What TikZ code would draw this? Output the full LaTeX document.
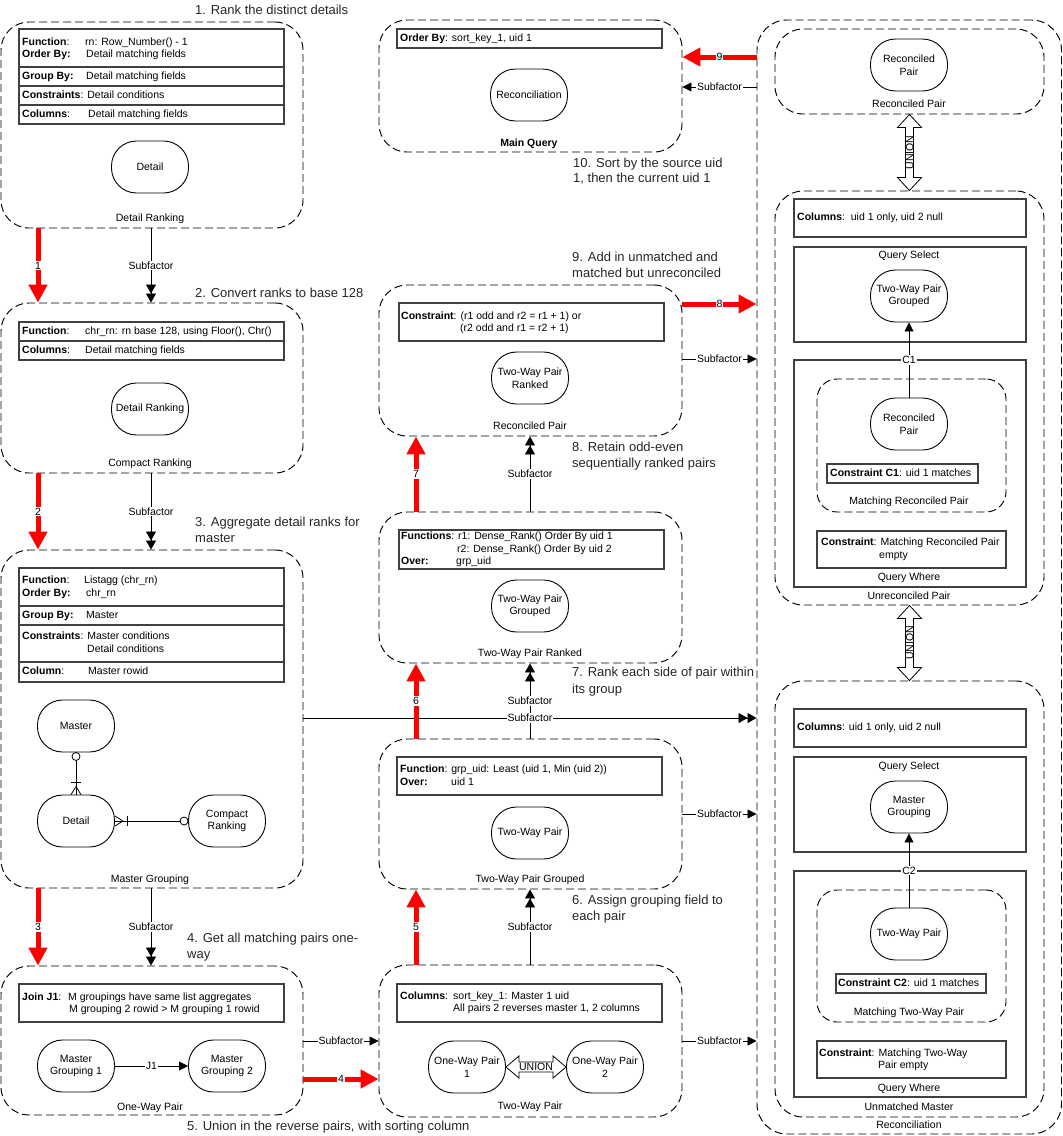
\documentclass[tikz,border=0pt]{standalone}
\usepackage{fontspec}
\setmainfont{Liberation Sans}
\usetikzlibrary{arrows.meta,calc,fit}
\newcommand\smallf{\fontsize{10.5}{12.5}\selectfont}
\newcommand\capf{\fontsize{13}{16}\selectfont}
\begin{document}
\begin{tikzpicture}[x=1pt,y=-1pt,
 grp/.style={draw=black, line width=0.95pt, dash pattern=on 8pt off 4pt, rounded corners=28pt, inner sep=0pt},
 grps/.style={grp, rounded corners=20pt},
 tbl/.style={draw=black!75, line width=1.3pt, inner sep=0pt},
 ent/.style={draw, line width=0.9pt, rounded corners=25pt, minimum width=77pt, minimum height=52pt, inner sep=1pt, align=center, font=\smallf},
 tx/.style={anchor=west, inner sep=0pt, text height=7.5pt, text depth=0pt, font=\smallf},
 ctx/.style={tx, anchor=center},
 capt/.style={anchor=west, inner sep=0pt, text height=9.3pt, text depth=0pt, font=\capf, text=black!85},
 redarr/.style={draw=red, line width=5pt, -{Triangle[length=18pt,width=18pt]}},
 sub1/.style={draw, line width=0.8pt, -{Triangle[length=9pt,width=9pt]}},
 sub2/.style={draw, line width=0.8pt, -{Triangle[length=9pt,width=10pt]Triangle[length=9pt,width=10pt]}},
 ml/.style={fill=white, inner sep=1pt, font=\smallf, text height=7.5pt, text depth=0pt, text=black},
 er/.style={draw, line width=0.8pt},
 uni/.style={draw, line width=0.8pt, fill=white}
]
\useasboundingbox (0,0) rectangle (1063,1136);
\coordinate (xA) at (38,0);
\coordinate (xB) at (151,0);
\coordinate (xC) at (416,0);
\coordinate (xD) at (530,0);
\coordinate (y57) at (0,57);
\coordinate (y87) at (0,87);
\coordinate (y304) at (0,304);
\coordinate (y359) at (0,359);
\coordinate (y718) at (0,718);
\coordinate (y814) at (0,814);
\coordinate (y1041) at (0,1041);
\coordinate (y1079) at (0,1079);

% ===== Left column =====
\node[grp, fit={(1,22)(303,228)}] (dr) {};
\node[tbl, fit={(19,29)(284,124)}] (drT) {};
\draw[tbl] (19,67) -- (284,67) (19,86) -- (284,86) (19,105) -- (284,105);
\node[tx] (t1a) at (22,42) {\textbf{Function}:};
\node[tx] (t1b) at (85,42) {rn: Row\_Number() - 1};
\node[tx] (t1c) at (22,54) {\textbf{Order By:}};
\node[tx] (t1d) at (86,54) {Detail matching fields};
\node[tx] (t1e) at (22,76) {\textbf{Group By:}};
\node[tx] (t1f) at (86,76) {Detail matching fields};
\node[tx] (t1g) at (22,95) {\textbf{Constraints}: Detail conditions};
\node[tx] (t1h) at (22,114) {\textbf{Columns}:};
\node[tx] (t1i) at (88,114) {Detail matching fields};
\node[ent] (eD1) at (150,167) {Detail};
\node[ctx] (l1) at (150,218) {Detail Ranking};
\node[capt] (s1) at (195,10) {1. Rank the distinct details};

\node[grp, fit={(1,303)(303,473)}] (cr) {};
\node[tbl, fit={(19,322)(284,360)}] (crT) {};
\draw[tbl] (19,341) -- (284,341);
\node[tx] (t2a) at (22,331) {\textbf{Function}:};
\node[tx] (t2b) at (85,331) {chr\_rn: rn base 128, using Floor(), Chr()};
\node[tx] (t2c) at (22,350) {\textbf{Columns}:};
\node[tx] (t2d) at (85,350) {Detail matching fields};
\node[ent] (eDR) at (150,409) {Detail Ranking};
\node[ctx] (l2) at (150,463) {Compact Ranking};
\node[capt] (s2) at (195,293) {2. Convert ranks to base 128};

\node[grp, fit={(1,550)(303,888)}] (mg) {};
\node[tbl, fit={(19,568)(284,682)}] (mgT) {};
\draw[tbl] (19,606) -- (284,606) (19,625) -- (284,625) (19,662) -- (284,662);
\node[tx] (t3a) at (22,580) {\textbf{Function}:};
\node[tx] (t3b) at (84,580) {Listagg (chr\_rn)};
\node[tx] (t3c) at (22,593) {\textbf{Order By:}};
\node[tx] (t3d) at (86,593) {chr\_rn};
\node[tx] (t3e) at (22,615) {\textbf{Group By:}};
\node[tx] (t3f) at (86,615) {Master};
\node[tx] (t3g) at (22,636) {\textbf{Constraints}: Master conditions};
\node[tx] (t3h) at (87,649) {Detail conditions};
\node[tx] (t3i) at (22,671) {\textbf{Column}:};
\node[tx] (t3j) at (88,671) {Master rowid};
\node[ent] (eMa) at (76,726) {Master};
\node[ent] (eDe) at (76,821) {Detail};
\node[ent] (eCR) at (227,821) {Compact\\Ranking};
\node[ctx] (l3) at (150,879) {Master Grouping};
\node[capt] (s3a) at (195,522) {3. Aggregate detail ranks for};
\node[capt] (s3b) at (195,538) {master};
% ER connectors
\draw[er] (eMa.south) -- (eDe.north);
\draw[er] ($(eDe.north)+(-5,-12)$) -- ($(eDe.north)+(5,-12)$);
\draw[er] ($(eDe.north)+(-5,0)$) -- ($(eDe.north)+(0,-8)$) -- ($(eDe.north)+(5,0)$);
\draw[er, fill=white] ($(eMa.south)+(0,4)$) circle[radius=4pt];
\draw[er] (eDe.east) -- (eCR.west);
\draw[er] ($(eDe.east)+(0,-5)$) -- ($(eDe.east)+(8,0)$) -- ($(eDe.east)+(0,5)$);
\draw[er] ($(eDe.east)+(12,-5)$) -- ($(eDe.east)+(12,5)$);
\draw[er, fill=white] ($(eCR.west)+(-4,0)$) circle[radius=4pt];

\node[grp, fit={(1,966)(303,1115)}] (owp) {};
\node[tbl, fit={(19,984)(284,1022)}] (owT) {};
\node[tx] (t4a) at (22,997) {\textbf{Join J1}:};
\node[tx] (t4b) at (68,997) {M groupings have same list aggregates};
\node[tx] (t4c) at (69,1009) {M grouping 2 rowid > M grouping 1 rowid};
\node[ent] (eG1) at (76,1066) {Master\\Grouping 1};
\node[ent] (eG2) at (227,1066) {Master\\Grouping 2};
\draw[sub1] (eG1) -- node[ml] {J1} (eG2);
\node[ctx] (l4) at (150,1107) {One-Way Pair};
\node[capt] (s4a) at (187,938) {4. Get all matching pairs one-};
\node[capt] (s4b) at (187,954) {way};
\node[capt] (s5) at (187,1126) {5. Union in the reverse pairs, with sorting column};

% ===== Middle column =====
\node[grp, fit={(379,20)(682,152)}] (mq) {};
\node[tbl, fit={(397,29)(662,48)}] (mqT) {};
\node[tx] (t5a) at (400,38) {\textbf{Order By}: sort\_key\_1, uid 1};
\node[ent] (eRc) at (529,95) {Reconciliation};
\node[ctx, font=\smallf\bfseries] (l5) at (529,143) {Main Query};
\node[capt] (s10a) at (573,163) {10. Sort by the source uid};
\node[capt] (s10b) at (573,178) {1, then the current uid 1};

\node[grp, fit={(379,285)(682,436)}] (rp) {};
\node[tbl, fit={(399,303)(664,341)}] (rpT) {};
\node[tx] (t6a) at (401,316) {\textbf{Constraint}: (r1 odd and r2 = r1 + 1) or};
\node[tx] (t6b) at (460,328) {(r2 odd and r1 = r2 + 1)};
\node[ent] (eTR) at (530,378) {Two-Way Pair\\Ranked};
\node[ctx] (l6) at (530,426) {Reconciled Pair};
\node[capt] (s9a) at (572,257) {9. Add in unmatched and};
\node[capt] (s9b) at (572,273) {matched but unreconciled};
\node[capt] (s8a) at (572,447) {8. Retain odd-even};
\node[capt] (s8b) at (572,463) {sequentially ranked pairs};

\node[grp, fit={(379,512)(682,663)}] (twr) {};
\node[tbl, fit={(399,530)(664,569)}] (twrT) {};
\node[tx] (t7a) at (401,536) {\textbf{Functions}: r1: Dense\_Rank() Order By uid 1};
\node[tx] (t7b) at (457,549) {r2: Dense\_Rank() Order By uid 2};
\node[tx] (t7c) at (401,561) {\textbf{Over:}};
\node[tx] (t7d) at (456,561) {grp\_uid};
\node[ent] (eTG) at (530,606) {Two-Way Pair\\Grouped};
\node[ctx] (l7) at (530,653) {Two-Way Pair Ranked};
\node[capt] (s7a) at (572,672) {7. Rank each side of pair within};
\node[capt] (s7b) at (572,689) {its group};

\node[grp, fit={(379,739)(682,889)}] (twg) {};
\node[tbl, fit={(397,757)(662,795)}] (twgT) {};
\node[tx] (t8a) at (400,769) {\textbf{Function}: grp\_uid: Least (uid 1, Min (uid 2))};
\node[tx] (t8b) at (400,782) {\textbf{Over:}};
\node[tx] (t8c) at (451,782) {uid 1};
\node[ent] (eTW) at (530,833) {Two-Way Pair};
\node[ctx] (l8) at (530,879) {Two-Way Pair Grouped};
\node[capt] (s6a) at (572,900) {6. Assign grouping field to};
\node[capt] (s6b) at (572,916) {each pair};

\node[grp, fit={(379,965)(682,1117)}] (twp) {};
\node[tbl, fit={(397,984)(662,1022)}] (twpT) {};
\node[tx] (t9a) at (400,996) {\textbf{Columns}:};
\node[tx] (t9b) at (453,996) {sort\_key\_1: Master 1 uid};
\node[tx] (t9c) at (453,1008) {All pairs 2 reverses master 1, 2 columns};
\node[ent] (eO1) at (467,1067) {One-Way Pair\\1};
\node[ent] (eO2) at (605,1067) {One-Way Pair\\2};
\node[ctx] (l9) at (530,1106) {Two-Way Pair};
\draw[uni] (eO1.east) -- ++(13,-11) -- ++(0,6) -- ($(eO2.west)+(-13,-5)$) -- ++(0,-6) -- (eO2.west) -- ++(-13,11) -- ++(0,-6) -- ($(eO1.east)+(13,5)$) -- ++(0,6) -- cycle;
\node[ctx] (u1) at ($(eO1.east)!0.5!(eO2.west)$) {UNION};

% ===== Right column =====
\node[grp, rounded corners=30pt, fit={(757,20)(1061.5,1134)}] (rec) {};
\node[grp, fit={(775,29)(1044,114)}] (rrp) {};
\node[ent] (eRP) at (909,65) {Reconciled\\Pair};
\node[ctx] (l10) at (909,104) {Reconciled Pair};

\node[grp, fit={(775,191)(1044,605)}] (urp) {};
\node[tbl, fit={(794,199)(1026,237)}] (colA) {};
\node[tx] (t10a) at (797,217) {\textbf{Columns}:\ \ uid 1 only, uid 2 null};
\node[tbl, fit={(794,247)(1026,342)}] (qsA) {};
\node[ctx] (l11) at (909,255) {Query Select};
\node[ent] (eTG2) at (909,296) {Two-Way Pair\\Grouped};
\node[tbl, fit={(794,360)(1026,587)}] (qwA) {};
\node[grps, fit={(817,379)(1006,512)}] (mrp) {};
\node[ent] (eRP2) at (909,424) {Reconciled\\Pair};
\node[tbl, fit={(827,464)(978,483)}] (c1T) {};
\node[tx] (t10b) at (830,473) {\textbf{Constraint C1}: uid 1 matches};
\node[ctx] (l12) at (909,501) {Matching Reconciled Pair};
\node[tbl, fit={(817,531)(1006,568)}] (csA) {};
\node[tx] (t10c) at (821,542) {\textbf{Constraint}: Matching Reconciled Pair};
\node[tx] (t10d) at (879,555) {empty};
\node[ctx] (l13) at (909,577) {Query Where};
\node[ctx] (l14) at (909,596) {Unreconciled Pair};
\draw[sub1] (eRP2.north) -- node[ml] {C1} (eTG2.south);

\node[grp, fit={(775,681)(1044,1117)}] (um) {};
\node[tbl, fit={(794,709)(1026,747)}] (colB) {};
\node[tx] (t11a) at (797,727) {\textbf{Columns}: uid 1 only, uid 2 null};
\node[tbl, fit={(794,757)(1026,852)}] (qsB) {};
\node[ctx] (l15) at (909,766) {Query Select};
\node[ent] (eMG) at (909,807) {Master\\Grouping};
\node[tbl, fit={(794,871)(1026,1097)}] (qwB) {};
\node[grps, fit={(817,890)(1006,1022)}] (mtw) {};
\node[ent] (eTW2) at (909,934) {Two-Way Pair};
\node[tbl, fit={(836,974)(986,993)}] (c2T) {};
\node[tx] (t11b) at (838,983) {\textbf{Constraint C2}: uid 1 matches};
\node[ctx] (l16) at (909,1012) {Matching Two-Way Pair};
\node[tbl, fit={(817,1041)(1006,1078)}] (csB) {};
\node[tx] (t11c) at (819,1053) {\textbf{Constraint}: Matching Two-Way};
\node[tx] (t11d) at (878,1065) {Pair empty};
\node[ctx] (l17) at (909,1088) {Query Where};
\node[ctx] (l18) at (909,1107) {Unmatched Master};
\node[ctx] (l19) at (909,1125) {Reconciliation};
\draw[sub1] (eTW2.north) -- node[ml] {C2} (eMG.south);

% vertical UNION arrows
\draw[uni] (rrp.south) -- ++(-12,13) -- ++(8,0) -- ($(urp.north)+(-4,-13)$) -- ++(-8,0) -- (urp.north) -- ++(12,-13) -- ++(-8,0) -- ($(rrp.south)+(4,13)$) -- ++(8,0) -- cycle;
\node[ctx, rotate=90] (u2) at ($(rrp.south)!0.5!(urp.north)$) {UNION};
\draw[uni] (urp.south) -- ++(-12,13) -- ++(8,0) -- ($(um.north)+(-4,-13)$) -- ++(-8,0) -- (um.north) -- ++(12,-13) -- ++(-8,0) -- ($(urp.south)+(4,13)$) -- ++(8,0) -- cycle;
\node[ctx, rotate=90] (u3) at ($(urp.south)!0.5!(um.north)$) {UNION};

% ===== Connectors =====
\draw[sub2] (dr.south -| xB) -- node[ml] {Subfactor} (cr.north -| xB);
\draw[sub2] (cr.south -| xB) -- node[ml] {Subfactor} (mg.north -| xB);
\draw[sub2] (mg.south -| xB) -- node[ml] {Subfactor} (owp.north -| xB);
\draw[sub1] (owp.east |- y1041) -- node[ml] {Subfactor} (twp.west |- y1041);
\draw[sub2] (twp.north -| xD) -- node[ml] {Subfactor} (twg.south -| xD);
\draw[sub2] (twg.north -| xD) -- node[ml] {Subfactor} (twr.south -| xD);
\draw[sub2] (twr.north -| xD) -- node[ml] {Subfactor} (rp.south -| xD);
\draw[sub2] (mg.east |- y718) -- node[ml] {Subfactor} (rec.west |- y718);
\draw[sub1] (twg.east |- y814) -- node[ml] {Subfactor} (rec.west |- y814);
\draw[sub1] (twp.east |- y1041) -- node[ml] {Subfactor} (rec.west |- y1041);
\draw[sub1] (rp.east |- y359) -- node[ml] {Subfactor} (rec.west |- y359);
\draw[sub1] (rec.west |- y87) -- node[ml] {Subfactor} (mq.east |- y87);

\draw[redarr] (dr.south -| xA) -- node[ml] {1} (cr.north -| xA);
\draw[redarr] (cr.south -| xA) -- node[ml] {2} (mg.north -| xA);
\draw[redarr] (mg.south -| xA) -- node[ml] {3} (owp.north -| xA);
\draw[redarr] (owp.east |- y1079) -- node[ml] {4} (twp.west |- y1079);
\draw[redarr] (twp.north -| xC) -- node[ml] {5} (twg.south -| xC);
\draw[redarr] (twg.north -| xC) -- node[ml] {6} (twr.south -| xC);
\draw[redarr] (twr.north -| xC) -- node[ml] {7} (rp.south -| xC);
\draw[redarr] (rp.east |- y304) -- node[ml] {8} (rec.west |- y304);
\draw[redarr] (rec.west |- y57) -- node[ml] {9} (mq.east |- y57);
\end{tikzpicture}
\end{document}
